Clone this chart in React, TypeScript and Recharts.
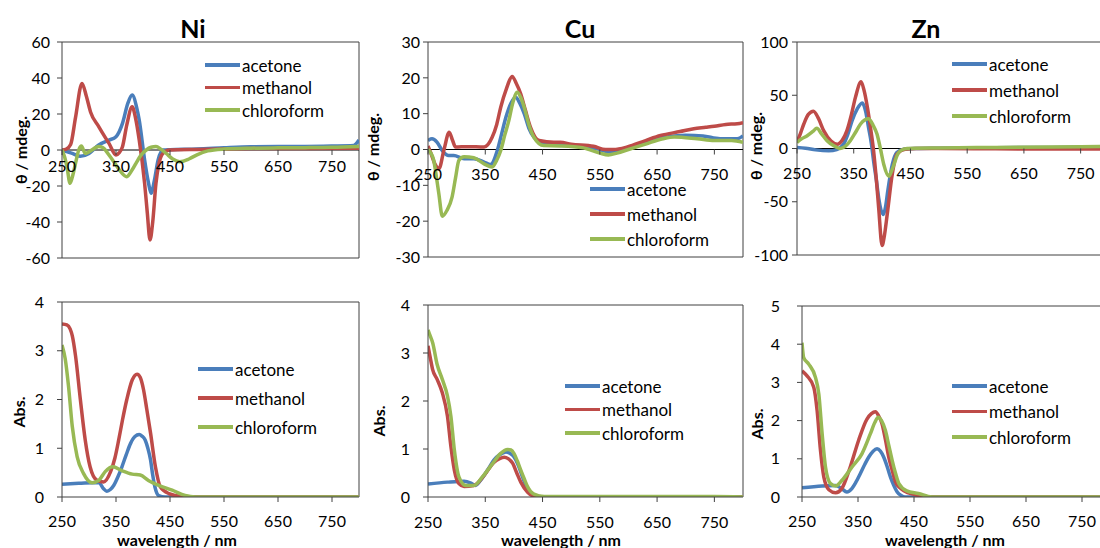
import React from 'react';
import { LineChart, Line, XAxis, YAxis, ReferenceLine, Legend } from 'recharts';

type Pt = [number, number];

// ---------- CD spectra (theta / mdeg) ----------
const niCdAcetone: Pt[] = [[250,0],[260,-1],[269,-1.9],[284,-3.5],[300,-1.9],[318,2.8],[337,5.5],[350,7.4],[362,14.8],[372,26],[380,30.5],[388,24],[393,16.6],[403,-5.5],[410,-18],[415,-24],[421,-17],[428,-5.5],[437,0],[450,0.2],[500,0.5],[550,1.2],[600,1.8],[650,2],[700,2],[750,2.2],[790,2.5],[800,5.5]];
const niCdMethanol: Pt[] = [[250,0],[258,0.5],[266,3],[275,18],[287,37],[295,30],[303,21],[318,13],[330,7],[337,3.7],[350,-2.8],[356,-1.5],[362,1.8],[370,14],[380,24],[386,18],[393,5.5],[403,-18.5],[408,-35],[413,-50],[418,-40],[424,-18.5],[430,-7],[437,-1.9],[449,0],[500,0.3],[550,0.5],[600,0.8],[700,0.8],[800,1]];
const niCdChloroform: Pt[] = [[250,0],[255,-4],[259,-9],[265,-18.5],[270,-14],[275,-7.4],[281,0],[286,2.2],[293,-1.9],[300,-1],[318,1.9],[325,1.5],[337,-2.8],[347,-7],[356,-11],[370,-14.8],[380,-11],[387,-7.4],[396,-3],[406,0],[415,1.5],[424,1.9],[433,0.5],[443,-1.9],[455,-5],[468,-6.5],[485,-5],[499,-2.8],[520,-0.5],[550,0.5],[600,1],[650,1.2],[700,1.3],[750,1.5],[800,2]];

const cuCdAcetone: Pt[] = [[250,2.5],[257,3],[266,2],[275,-0.3],[286,-1.7],[295,-1.7],[313,-2.6],[330,-2.6],[348,-3.5],[359,-4.2],[371,-0.3],[378,4],[386,9],[395,13],[403,14.6],[410,13],[418,10],[426,6],[435,3.4],[452,1.6],[480,1.3],[520,1],[540,0.3],[550,0],[565,-0.7],[580,-0.3],[590,0],[620,1.5],[650,3],[680,3.8],[700,4],[730,3.8],[760,3],[790,3],[800,3.8]];
const cuCdMethanol: Pt[] = [[250,1],[255,-1],[262,-4],[269,-5.4],[278,0],[287,4.8],[293,2.5],[298,0.7],[319,0.8],[348,0.7],[362,3.4],[370,7],[377,11.8],[387,17],[397,20.4],[404,18.5],[412,15.5],[420,11],[429,6.2],[444,2.5],[470,2],[481,2],[500,1.5],[539,0.9],[560,0],[574,0],[598,0.7],[630,2.5],[656,3.9],[690,5],[714,5.8],[735,6.2],[750,6.5],[770,7],[790,7.2],[800,7.5]];
const cuCdChloroform: Pt[] = [[250,0],[255,-1],[260,-3],[265,-8],[269,-12.4],[275,-18.6],[283,-17],[292,-13.3],[298,-8],[304,-3],[313,-2],[330,-2.3],[348,-4],[362,-4.9],[370,-3],[377,-0.3],[384,4],[391,8],[398,13],[406,16],[412,14.5],[418,11.8],[426,7],[435,3.4],[452,1.1],[480,1],[520,0.5],[550,-1],[565,-1.5],[580,-1],[600,0],[630,1.5],[660,3],[680,3.5],[720,3],[750,2.5],[780,2.5],[800,2]];

const znCdAcetone: Pt[] = [[250,1],[265,0.3],[283,-1.3],[306,-2.2],[320,-1],[332,4],[340,14],[347,26],[356,37],[365,42.7],[371,35],[376,20],[381,5],[385,-11.7],[390,-30],[394,-46.5],[402,-62],[406,-55],[410,-40],[418,-15],[426,-3.8],[438,-0.6],[460,0],[500,0.3],[600,0.8],[700,1],[800,1.5]];
const znCdMethanol: Pt[] = [[250,5.7],[256,14],[262,23],[270,32],[279,35],[288,28],[297,16.8],[310,7],[321,4],[330,8],[338,16.8],[346,32],[353,48],[363,62.7],[368,55],[374,39],[380,18],[385,-2],[390,-30],[394,-56],[400,-91],[404,-82],[409,-62],[418,-24],[426,-5.4],[441,-0.6],[460,0],[500,0],[600,-0.3],[700,-0.5],[800,-0.5]];
const znCdChloroform: Pt[] = [[250,5.7],[258,9],[268,12],[278,16],[285,19],[293,14],[303,7.3],[315,2.5],[326,0],[335,2],[344,7.3],[353,15],[362,23],[376,27.9],[384,22],[391,13.6],[397,0],[403,-15],[412,-26],[416,-22],[421,-15],[426,-7],[432,-2.2],[444,0],[500,0.5],[600,1],[700,1.5],[800,2]];

// ---------- Absorption spectra ----------
const niAbsAcetone: Pt[] = [[250,0.26],[281,0.28],[318,0.3],[327,0.17],[333,0.12],[340,0.16],[346,0.24],[353,0.4],[361,0.62],[369,0.87],[377,1.1],[385,1.24],[393,1.28],[398,1.25],[404,1.17],[409,1.0],[414,0.76],[418,0.45],[422,0.21],[429,0.03],[441,0],[800,0]];
const niAbsMethanol: Pt[] = [[250,3.55],[259,3.53],[265,3.45],[269,3.31],[275,2.9],[284,2.0],[293,1.17],[302,0.62],[315,0.34],[327,0.31],[340,0.52],[348,0.8],[355,1.17],[362,1.58],[370,2.0],[380,2.4],[389,2.52],[395,2.45],[401,2.2],[407,1.8],[414,1.31],[423,0.62],[432,0.21],[448,0.07],[472,0.01],[500,0],[800,0]];
const niAbsChloroform: Pt[] = [[250,3.12],[256,2.83],[262,2.28],[269,1.45],[278,0.83],[290,0.48],[306,0.29],[318,0.34],[330,0.52],[344,0.62],[361,0.54],[380,0.47],[395,0.45],[410,0.34],[429,0.24],[454,0.14],[478,0.03],[497,0],[800,0]];

const cuAbsAcetone: Pt[] = [[250,0.27],[284,0.31],[313,0.33],[325,0.29],[333,0.24],[340,0.32],[348,0.45],[356,0.6],[365,0.77],[375,0.88],[386,0.94],[393,0.91],[400,0.84],[408,0.65],[415,0.42],[421,0.24],[427,0.1],[438,0.01],[460,0],[800,0]];
const cuAbsMethanol: Pt[] = [[250,3.15],[254,2.9],[258,2.66],[266,2.45],[275,2.17],[284,1.68],[290,1.05],[296,0.56],[304,0.28],[313,0.22],[330,0.24],[348,0.45],[365,0.72],[375,0.8],[383,0.83],[390,0.8],[398,0.7],[405,0.5],[412,0.31],[424,0.1],[438,0.01],[460,0],[800,0]];
const cuAbsChloroform: Pt[] = [[250,3.48],[254,3.35],[258,3.22],[266,2.76],[275,2.45],[284,2.1],[290,1.68],[296,0.98],[304,0.42],[316,0.24],[330,0.24],[345,0.42],[363,0.7],[377,0.91],[389,0.99],[395,0.98],[400,0.91],[406,0.75],[412,0.56],[418,0.38],[424,0.21],[435,0.06],[453,0.01],[500,0.01],[750,0.01],[800,0]];

const znAbsAcetone: Pt[] = [[250,0.24],[286,0.29],[310,0.3],[321,0.22],[330,0.13],[339,0.22],[346,0.38],[354,0.61],[362,0.85],[369,1.04],[377,1.2],[384,1.26],[390,1.2],[396,1.04],[402,0.8],[408,0.52],[414,0.3],[420,0.13],[427,0.04],[434,0],[800,0]];
const znAbsMethanol: Pt[] = [[250,3.3],[259,3.17],[271,2.87],[277,2.26],[283,1.22],[289,0.52],[298,0.19],[310,0.11],[321,0.22],[336,0.78],[351,1.48],[366,2.04],[374,2.18],[381,2.23],[387,2.12],[393,1.91],[399,1.5],[405,1.04],[411,0.7],[417,0.39],[425,0.24],[432,0.16],[452,0.06],[476,0],[800,0]];
const znAbsChloroform: Pt[] = [[250,4.04],[253,3.65],[262,3.48],[274,3.13],[280,2.7],[286,1.65],[292,0.78],[301,0.35],[310,0.29],[321,0.43],[339,0.78],[357,1.13],[372,1.65],[380,1.95],[386,2.09],[392,2.0],[399,1.74],[405,1.35],[411,0.96],[417,0.62],[423,0.35],[437,0.16],[458,0.09],[482,0],[800,0]];

// ---------- axes ----------
const X_TICKS = [250, 350, 450, 550, 650, 750];
const X_DOMAIN: [number, number] = [250, 800];
const SOLVENTS = ['acetone', 'methanol', 'chloroform'];
const COLORS = ['#4A7EBB', '#BE4B48', '#98B954'];
const NI_CD_TICKS = [-60, -40, -20, 0, 20, 40, 60];
const CU_CD_TICKS = [-30, -20, -10, 0, 10, 20, 30];
const ZN_CD_TICKS = [-100, -50, 0, 50, 100];
const ABS4_TICKS = [0, 1, 2, 3, 4];
const ABS5_TICKS = [0, 1, 2, 3, 4, 5];
const METALS = ['Ni', 'Cu', 'Zn'];
const CD_TITLE = 'θ / mdeg.';
const ABS_TITLE = 'Abs.';
const X_TITLE = 'wavelength / nm';

const FONT = 'Lato, "Open Sans", "DejaVu Sans", sans-serif';
const FRAME = '#404040';
const TICK_FS = 16;

const toRows = (pts: Pt[]) => pts.map(([x, y]) => ({ x, y }));

interface PanelCfg {
  series: Pt[][];
  yTicks: number[];
  plot: { l: number; t: number; r: number; b: number };
  cd: boolean;
  tickDy: number;
  yGap: number;
  legend: { x: number; y: number; gap: number };
}

const PANELS: PanelCfg[] = [
  { series: [niCdAcetone, niCdMethanol, niCdChloroform], yTicks: NI_CD_TICKS, plot: { l: 62, t: 42, r: 359, b: 258 }, cd: true, tickDy: 16, yGap: 12, legend: { x: 205, y: 65, gap: 22.5 } },
  { series: [cuCdAcetone, cuCdMethanol, cuCdChloroform], yTicks: CU_CD_TICKS, plot: { l: 428, t: 42, r: 743, b: 257 }, cd: true, tickDy: 25, yGap: 8, legend: { x: 590, y: 189, gap: 25 } },
  { series: [znCdAcetone, znCdMethanol, znCdChloroform], yTicks: ZN_CD_TICKS, plot: { l: 797, t: 42, r: 1109, b: 255 }, cd: true, tickDy: 25, yGap: 9, legend: { x: 952, y: 64, gap: 26 } },
  { series: [niAbsAcetone, niAbsMethanol, niAbsChloroform], yTicks: ABS4_TICKS, plot: { l: 62, t: 302, r: 359, b: 497 }, cd: false, tickDy: 24, yGap: 18, legend: { x: 198, y: 369, gap: 29 } },
  { series: [cuAbsAcetone, cuAbsMethanol, cuAbsChloroform], yTicks: ABS4_TICKS, plot: { l: 428, t: 305, r: 743, b: 497 }, cd: false, tickDy: 25, yGap: 18, legend: { x: 565, y: 386, gap: 23.5 } },
  { series: [znAbsAcetone, znAbsMethanol, znAbsChloroform], yTicks: ABS5_TICKS, plot: { l: 802, t: 306, r: 1110, b: 497 }, cd: false, tickDy: 24, yGap: 22, legend: { x: 952, y: 386, gap: 25.5 } },
];

const Y_W = 60;
const M_T = 10;
const M_R = 12;
const X_H = 40;

const makeLegend = (gap: number) => (props: any) => {
  const payload = [...(props.payload || [])].sort(
    (a: any, b: any) => SOLVENTS.indexOf(a.value) - SOLVENTS.indexOf(b.value)
  );
  return (
    <div style={{ fontFamily: FONT, fontSize: 17, color: '#000' }}>
      {payload.map((p: any, i: number) => (
        <div key={i} style={{ display: 'flex', alignItems: 'center', height: gap, whiteSpace: 'nowrap' }}>
          <span style={{ display: 'inline-block', width: 35, height: 3.5, background: p.color, marginRight: 2 }} />
          <span style={{ lineHeight: 1 }}>{p.value}</span>
        </div>
      ))}
    </div>
  );
};

function Panel({ cfg }: { cfg: PanelCfg }) {
  const { l, t, r, b } = cfg.plot;
  const width = r - l + Y_W + M_R;
  const height = b - t + M_T + X_H;
  const left = l - Y_W;
  const top = t - M_T;
  const yMin = cfg.yTicks[0];
  const yMax = cfg.yTicks[cfg.yTicks.length - 1];
  const baseY = cfg.cd ? M_T + (b - t) * (yMax / (yMax - yMin)) : M_T + (b - t);

  const renderTick = (props: any) => {
    const { x, payload } = props;
    return (
      <g>
        <line x1={x} x2={x} y1={baseY} y2={baseY + 5} stroke={FRAME} />
        <text x={x} y={baseY + cfg.tickDy + 5.5} textAnchor="middle" fill="#000" fontSize={TICK_FS} fontFamily={FONT}>
          {String(payload.value)}
        </text>
      </g>
    );
  };

  return (
    <div style={{ position: 'absolute', left, top }}>
      <LineChart width={width} height={height} margin={{ top: M_T, right: M_R, left: 0, bottom: 0 }}>
        <XAxis
          dataKey="x"
          type="number"
          domain={X_DOMAIN}
          ticks={X_TICKS}
          allowDataOverflow
          height={X_H}
          axisLine={{ stroke: FRAME }}
          tickLine={false}
          tick={renderTick}
          interval={0}
        />
        <YAxis
          type="number"
          domain={[yMin, yMax]}
          ticks={cfg.yTicks}
          allowDataOverflow
          width={Y_W}
          axisLine={{ stroke: FRAME }}
          tickLine={{ stroke: FRAME }}
          tickSize={5}
          tickMargin={cfg.yGap - 5}
          tick={{ fill: '#000', fontSize: TICK_FS, fontFamily: FONT }}
          interval={0}
        />
        <ReferenceLine y={yMax} stroke={FRAME} />
        <ReferenceLine x={800} stroke={FRAME} />
        {cfg.cd && <ReferenceLine y={0} stroke="#000" />}
        {cfg.series.map((s, i) => (
          <Line
            key={SOLVENTS[i]}
            data={toRows(s)}
            dataKey="y"
            name={SOLVENTS[i]}
            type="monotone"
            stroke={COLORS[i]}
            strokeWidth={3.5}
            dot={false}
            activeDot={false}
            isAnimationActive={false}
          />
        ))}
        <Legend
          layout="vertical"
          align="center"
          verticalAlign="middle"
          content={makeLegend(cfg.legend.gap)}
          wrapperStyle={{ left: cfg.legend.x - left, top: cfg.legend.y - cfg.legend.gap / 2 - top, width: 160, height: cfg.legend.gap * 3 }}
        />
      </LineChart>
    </div>
  );
}

const Title = ({ text, cx, cy }: { text: string; cx: number; cy: number }) => (
  <div style={{ position: 'absolute', left: cx, top: cy, transform: 'translate(-50%, -50%)', fontWeight: 700, fontSize: 25, whiteSpace: 'nowrap' }}>{text}</div>
);

const AxisTitle = ({ text, cx, cy, rotate }: { text: string; cx: number; cy: number; rotate?: boolean }) => (
  <div
    style={{
      position: 'absolute',
      left: cx,
      top: cy,
      transform: rotate ? 'translate(-50%, -50%) rotate(-90deg)' : 'translate(-50%, -50%)',
      fontWeight: 700,
      fontSize: 16,
      whiteSpace: 'nowrap',
      lineHeight: 1,
    }}
  >
    {text}
  </div>
);

export default function App() {
  return (
    <div style={{ position: 'absolute', left: 0, top: 0, width: 1100, height: 548, overflow: 'hidden', background: '#fff', fontFamily: FONT, color: '#000' }}>
      {PANELS.map((p, i) => (
        <Panel key={i} cfg={p} />
      ))}
      <Title text={METALS[0]} cx={193} cy={28} />
      <Title text={METALS[1]} cx={580} cy={28} />
      <Title text={METALS[2]} cx={926} cy={28} />
      <AxisTitle text={CD_TITLE} cx={21} cy={150} rotate />
      <AxisTitle text={CD_TITLE} cx={373} cy={147} rotate />
      <AxisTitle text={CD_TITLE} cx={756} cy={146} rotate />
      <AxisTitle text={ABS_TITLE} cx={19} cy={412} rotate />
      <AxisTitle text={ABS_TITLE} cx={379} cy={421} rotate />
      <AxisTitle text={ABS_TITLE} cx={757} cy={424} rotate />
      <AxisTitle text={X_TITLE} cx={177} cy={540} />
      <AxisTitle text={X_TITLE} cx={561} cy={540} />
      <AxisTitle text={X_TITLE} cx={945} cy={540} />
    </div>
  );
}
